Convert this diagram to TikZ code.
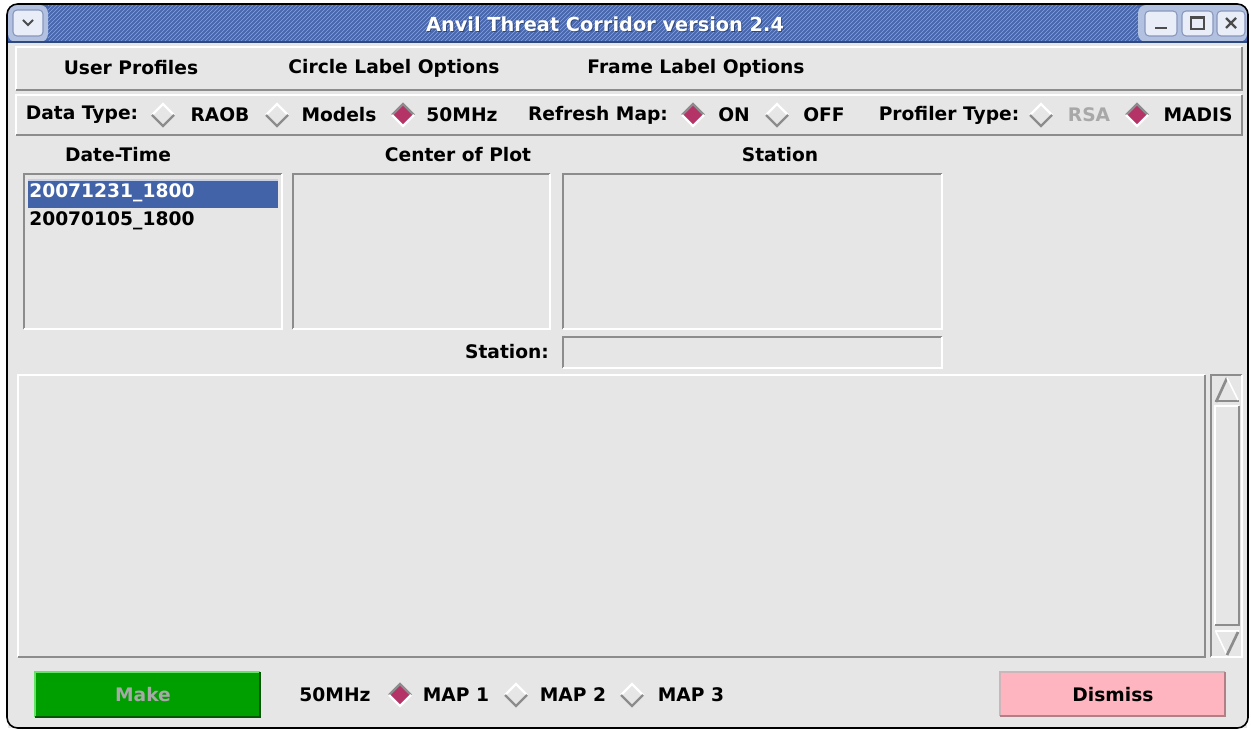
\documentclass[tikz,border=0pt]{standalone}
\usepackage{fontspec}
\setmainfont{DejaVu Sans}
\usepackage{tikz}
\usetikzlibrary{patterns}

\definecolor{panel}{HTML}{E6E6E6}
\definecolor{edgegray}{HTML}{8C8C8C}
\definecolor{titleblue}{HTML}{4767AE}
\definecolor{titledark}{HTML}{2E4880}
\definecolor{stripe}{HTML}{8BA3D8}
\definecolor{titlelight}{HTML}{B3C1E0}
\definecolor{btnface}{HTML}{E9EDF7}
\definecolor{btnedge}{HTML}{8797BC}
\definecolor{selblue}{HTML}{4363A8}
\definecolor{radiored}{HTML}{B53468}
\definecolor{makegreen}{HTML}{009F00}
\definecolor{dismisspink}{HTML}{FFB5C0}
\definecolor{dimtext}{HTML}{A8A8A8}

\newcommand{\guifont}{\fontsize{14}{16}\selectfont\bfseries}

% bevelled panels: x1 y1 x2 y2 (pixels, y downward)
\newcommand{\raisedpanel}[4]{%
  \fill[panel] (#1,#2) rectangle (#3,#4);
  \draw[white,line width=2pt] (#1,#4) -- (#1,#2) -- (#3,#2);
  \draw[edgegray,line width=2pt] (#1,#4) -- (#3,#4) -- (#3,#2);}
\newcommand{\sunkenpanel}[4]{%
  \fill[panel] (#1,#2) rectangle (#3,#4);
  \draw[edgegray,line width=2pt] (#1,#4) -- (#1,#2) -- (#3,#2);
  \draw[white,line width=2pt] (#1,#4) -- (#3,#4) -- (#3,#2);}

\begin{document}
\begin{tikzpicture}[x=0.75pt,y=-0.75pt,
  lbl/.style={font=\guifont,inner sep=0pt},
  dim/.style={lbl,text=dimtext},
  radiooff/.pic={
    \draw[white,line width=1.8pt] (-11,0) -- (0,-11) -- (11,0);
    \draw[edgegray,line width=1.8pt] (-11,0) -- (0,11) -- (11,0);},
  radioon/.pic={
    \fill[radiored] (-11,0) -- (0,-11) -- (11,0) -- (0,11) -- cycle;
    \draw[edgegray,line width=1.8pt] (-11,0) -- (0,-11) -- (11,0);
    \draw[white,line width=1.8pt] (-11,0) -- (0,11) -- (11,0);},
  winbtn/.style={fill=btnface,draw=btnedge,line width=0.8pt,rounded corners=3}]
\useasboundingbox (0,0) rectangle (1251,730);
\fill[white] (0,0) rectangle (1251,730);

% title bar
\fill[titleblue,rounded corners=7] (8,5) rectangle (1247,60);
\fill[pattern=north east lines,pattern color=stripe] (48,6) rectangle (1138,41);
\fill[titlelight,rounded corners=6] (8,5) -- (48,5) -- (48,42) -- (8,42) -- cycle;
\fill[titlelight,rounded corners=6] (1138,5) -- (1247,5) -- (1247,42) -- (1138,42) -- cycle;
\fill[panel] (8,42) rectangle (1247,728);
\draw[titledark,line width=1pt] (8,42) -- (1247,42);
\node[font=\fontsize{14.5}{16}\selectfont\bfseries,text=titledark,inner sep=0pt] at (606,25) {Anvil Threat Corridor version 2.4};
\node[font=\fontsize{14.5}{16}\selectfont\bfseries,text=white,inner sep=0pt] (title) at (605,24) {Anvil Threat Corridor version 2.4};

% window buttons
\draw[winbtn] (13,10) rectangle (43,36);
\draw[black!70,line width=1.5pt] (23,20) -- (28,25) -- (33,20);
\draw[winbtn] (1145,11) rectangle (1177,36);
\draw[black!70,line width=2.2pt] (1155,28) -- (1167,28);
\draw[winbtn] (1182,11) rectangle (1213,36);
\draw[black!70,line width=1pt] (1191,17) rectangle (1204,29);
\draw[black!70,line width=2pt] (1191,18) -- (1204,18);
\draw[winbtn] (1217,11) rectangle (1245,36);
\draw[black!70,line width=1.8pt] (1226,18) -- (1236,28) (1226,28) -- (1236,18);

% window frame
\draw[black,line width=1.2pt,rounded corners=8] (7,4) rectangle (1248,728);

% menu bar
\raisedpanel{16}{47}{1242}{90}
\node[lbl] (profiles) at (131,68) {User Profiles};
\node[lbl] (circleopts) at (394,68) {Circle Label Options};
\node[lbl] (frameopts) at (696,68) {Frame Label Options};

% option bar
\raisedpanel{16}{95}{1242}{135}
\foreach \cx/\txt/\nm in {82/{Data Type:}/datatype, 220/RAOB/raob, 339/Models/models,
  462/50MHz/fifty, 598/{Refresh Map:}/refresh, 734/ON/on, 824/OFF/off,
  949/{Profiler Type:}/proftype, 1198/MADIS/madis}
  { \node[lbl] (\nm) at (\cx,115) {\txt}; }
\node[dim] (rsa) at (1089,115) {RSA};
\foreach \cx in {163,277,777,1041}
  { \pic at (\cx,115) {radiooff}; }
\foreach \cx in {403,693,1137}
  { \pic at (\cx,115) {radioon}; }

% list headings
\node[lbl] (datetime) at (118,155) {Date-Time};
\node[lbl] (center) at (458,155) {Center of Plot};
\node[lbl] (station) at (780,155) {Station};

% list boxes
\sunkenpanel{24}{174}{282}{329}
\sunkenpanel{293}{174}{550}{329}
\sunkenpanel{563}{174}{942}{329}
\fill[selblue] (28,180) rectangle (278,208);
\draw[white!70!selblue,line width=0.8pt] (28,180) -- (278,180);
\node[lbl,anchor=west,text=white] (date1) at (29,193) {20071231\_1800};
\node[lbl,anchor=west] (date2) at (29,221) {20070105\_1800};

% station entry
\node[lbl] (stationlbl) at (507,352) {Station:};
\sunkenpanel{563}{337}{942}{368}

% text area and scroll bar
\raisedpanel{18}{375}{1205}{657}
\sunkenpanel{1211}{375}{1242}{657}
\draw[white,line width=1.4pt] (1215,625) -- (1215,406) -- (1239,406);
\draw[edgegray,line width=2pt] (1215,625) -- (1239,625) -- (1239,406);
\draw[edgegray,line width=2pt] (1216,402) -- (1227,378);
\draw[edgegray,line width=2pt] (1215,401) -- (1239,401);
\draw[white,line width=1.2pt] (1227,378) -- (1238,400);
\draw[white,line width=1.2pt] (1215,631) -- (1239,631);
\draw[white,line width=1.2pt] (1216,632) -- (1227,655);
\draw[edgegray,line width=2pt] (1227,655) -- (1238,632);

% bottom row
\fill[makegreen] (35,672) rectangle (260,717);
\draw[green!50!makegreen!60!white,line width=1.4pt] (35,717) -- (35,672) -- (260,672);
\draw[black!45!makegreen,line width=1.4pt] (35,717) -- (260,717) -- (260,672);
\node[dim] (make) at (143,695) {Make};

\node[lbl] (fiftyb) at (335,695) {50MHz};
\pic at (400,695) {radioon};
\node[lbl] (map1) at (456,695) {MAP 1};
\pic at (516,695) {radiooff};
\node[lbl] (map2) at (573,695) {MAP 2};
\pic at (632,695) {radiooff};
\node[lbl] (map3) at (691,695) {MAP 3};

\fill[dismisspink] (1000,672) rectangle (1225,716);
\draw[dismisspink!60!black!50,line width=1.2pt] (1000,716) -- (1000,672) -- (1225,672);
\draw[dismisspink!70!black,line width=1.2pt] (1000,716) -- (1225,716) -- (1225,672);
\node[lbl] (dismiss) at (1113,695) {Dismiss};

\end{tikzpicture}
\end{document}
